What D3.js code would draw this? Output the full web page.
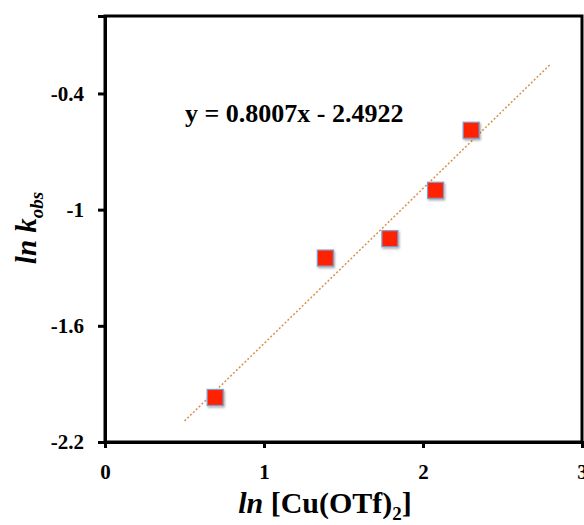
<!DOCTYPE html>
<html lang="en">
<head>
<meta charset="utf-8">
<title>ln kobs vs ln [Cu(OTf)2]</title>
<script src="https://cdn.jsdelivr.net/npm/d3@7"></script>
<style>
  body { margin: 0; background: #fff; }
  text { font-family: "Liberation Serif", "Times New Roman", serif; font-weight: bold; }
  .axis text { font-size: 21px; }
</style>
</head>
<body>
<script>
// data
var lnCu = [0.693, 1.386, 1.792, 2.079, 2.303];
var lnK = [-1.97, -1.25, -1.15, -0.90, -0.59];
var xTicks = [0, 1, 2, 3];
var yTicks = [-2.2, -1.6, -1, -0.4];
var slope = 0.8007, intercept = -2.4922;
var trendX = [0.5, 2.8];

var w = 584, h = 525;
var margin = {top: 16, right: 2, bottom: 83, left: 105};

var svg = d3.select("body").append("svg")
    .attr("width", w)
    .attr("height", h);

var defs = svg.append("defs");
var f = defs.append("filter").attr("id", "shadow")
    .attr("x", "-30%").attr("y", "-30%").attr("width", "160%").attr("height", "160%");
f.append("feDropShadow").attr("dx", 1).attr("dy", 1.5).attr("stdDeviation", 1.2)
    .attr("flood-color", "#000").attr("flood-opacity", 0.35);

var x = d3.scaleLinear().domain([0, 3]).range([margin.left, w - margin.right]);
var y = d3.scaleLinear().domain([-2.2, 0]).range([h - margin.bottom, margin.top]);

// frame
svg.append("rect")
    .attr("x", x(0)).attr("y", y(0))
    .attr("width", x(3) - x(0)).attr("height", y(-2.2) - y(0))
    .attr("fill", "none").attr("stroke", "#000").attr("stroke-width", 3);

// axes
var xAxis = svg.append("g")
    .attr("class", "axis")
    .attr("transform", "translate(0," + y(-2.2) + ")")
    .call(d3.axisBottom(x).tickValues(xTicks).tickSize(6).tickPadding(16).tickFormat(d3.format("d")));
var yAxis = svg.append("g")
    .attr("class", "axis")
    .attr("transform", "translate(" + x(0) + ",0)")
    .call(d3.axisLeft(y).tickValues(yTicks).tickSize(7).tickPadding(14).tickFormat(function(d) { return d; }));

[xAxis, yAxis].forEach(function(g) {
    g.attr("font-size", 21).attr("font-family", "Liberation Serif, serif").attr("font-weight", "bold");
    g.select(".domain").attr("stroke-width", 3);
    g.selectAll(".tick line").attr("stroke-width", 3);
    g.selectAll(".tick text").attr("fill", "#000");
});

// trend line
svg.append("line")
    .attr("x1", x(trendX[0])).attr("y1", y(slope * trendX[0] + intercept))
    .attr("x2", x(trendX[1])).attr("y2", y(slope * trendX[1] + intercept))
    .attr("stroke", "#d9904a").attr("stroke-width", 1.5)
    .attr("stroke-dasharray", "2,2");

// points
var s = 16;
svg.selectAll("rect.pt")
    .data(lnCu)
    .enter()
    .append("rect")
    .attr("class", "pt")
    .attr("x", function(d) { return x(d) - s / 2; })
    .attr("y", function(d, i) { return y(lnK[i]) - s / 2; })
    .attr("width", s).attr("height", s)
    .attr("fill", "#ff2200")
    .attr("stroke", "#7f9bcb").attr("stroke-width", 1.2)
    .attr("filter", "url(#shadow)");

// equation
svg.append("text")
    .attr("x", 185).attr("y", 122)
    .style("font-size", "26px")
    .text("y = 0.8007x - 2.4922");

// x title
var xt = svg.append("text")
    .attr("x", 325).attr("y", 513)
    .attr("text-anchor", "middle")
    .style("font-size", "30px");
xt.append("tspan").style("font-style", "italic").text("ln");
xt.append("tspan").text(" [Cu(OTf)");
xt.append("tspan").style("font-size", "19px").attr("dy", 7).text("2");
xt.append("tspan").attr("dy", -7).text("]");

// y title
var yt = svg.append("text")
    .attr("transform", "translate(36,228) rotate(-90)")
    .attr("text-anchor", "middle")
    .style("font-size", "29px")
    .style("font-style", "italic");
yt.append("tspan").text("ln k");
yt.append("tspan").style("font-size", "19px").attr("dy", 7).text("obs");
</script>
</body>
</html>
